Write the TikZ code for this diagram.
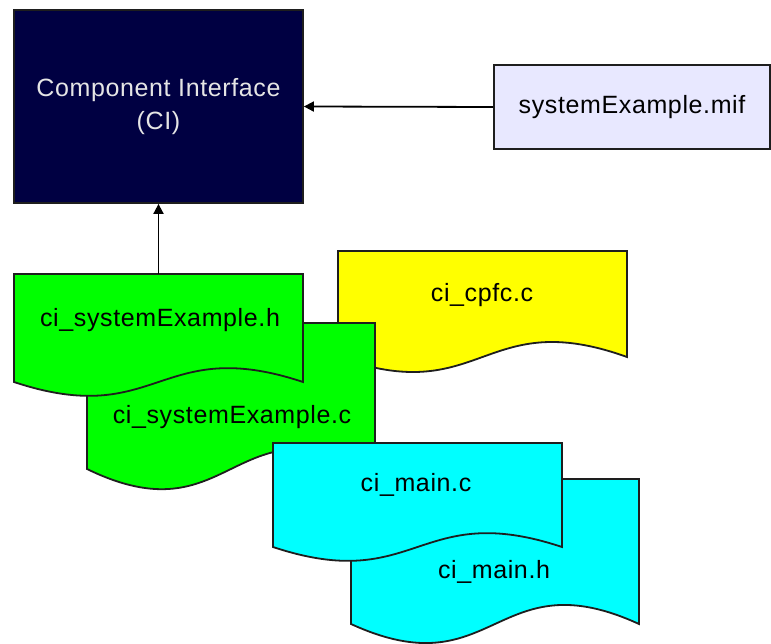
\documentclass[tikz,border=0pt]{standalone}
\usepackage{fontspec}
\setmainfont[LetterSpace=2.5]{Liberation Sans}
\usetikzlibrary{arrows.meta}
\definecolor{navybox}{RGB}{0,0,66}
\definecolor{mifbox}{RGB}{232,232,255}
\definecolor{edgegray}{RGB}{30,30,30}
\definecolor{docgreen}{RGB}{0,255,0}
\definecolor{docyellow}{RGB}{255,255,0}
\definecolor{doccyan}{RGB}{0,255,255}
\newcommand{\drawdoc}[6]{%
  \filldraw[outline, fill=#6] (#1,#4) -- (#1,#2) -- (#3,#2) -- (#3,#4)
    .. controls ({(#1+#3)/2},{#4-#5}) and ({(#1+#3)/2},{#4+#5}) .. (#1,#4) -- cycle;}
\begin{document}
\begin{tikzpicture}[x=1pt,y=-1pt,
  lbl/.style={font=\fontsize{25}{33}\selectfont, text=black, inner sep=0pt},
  outline/.style={draw=edgegray, line width=1.8pt, line join=miter},
  arr/.style={draw=black, line width=1.8pt, -{Triangle[length=10pt,width=10pt]}}]
\useasboundingbox (0,0) rectangle (771,644);
\fill[white] (0,0) rectangle (771,644);

% Component Interface box
\node[outline, fill=navybox, minimum width=289pt, minimum height=193pt, inner sep=0pt,
      text=white!90!black, align=center, font=\fontsize{25}{33}\selectfont]
  (ci) at (158.5,106.5) {Component Interface\\(CI)};

% mif box
\node[outline, fill=mifbox, minimum width=276pt, minimum height=84pt, inner sep=0pt,
      font=\fontsize{25}{30}\selectfont]
  (mif) at (632,107) {systemExample.mif};

% documents (drawing order matters for overlaps)
\drawdoc{338}{251}{627}{357}{52}{docyellow}
\node[lbl] (cpfc) at (482,295) {ci\_cpfc.c};

\drawdoc{87}{323}{375}{469}{70}{docgreen}
\node[lbl] (sysc) at (232,417) {ci\_systemExample.c};

\drawdoc{14}{274}{303}{382}{48}{docgreen}
\node[lbl] (sysh) at (160,320) {ci\_systemExample.h};
\coordinate (shtop) at (158.5,274);

\drawdoc{351}{479}{639}{624}{66}{doccyan}
\node[lbl] (mainh) at (494,572) {ci\_main.h};

\drawdoc{273}{443}{562}{547}{48}{doccyan}
\node[lbl] (mainc) at (416,485) {ci\_main.c};

% connectors
\draw[arr] (mif.west) -- (ci.east);
\draw[arr] (shtop) -- (ci.south);
\end{tikzpicture}
\end{document}
